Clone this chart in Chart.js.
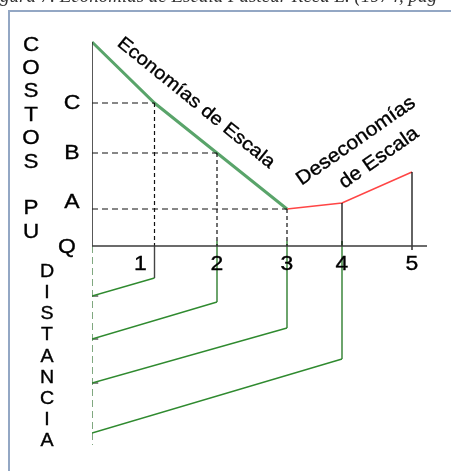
<!DOCTYPE html>
<html><head><meta charset="utf-8">
<script src="https://cdn.jsdelivr.net/npm/chart.js@4"></script>
<style>html,body{margin:0;padding:0;background:#fff;}canvas{display:block}</style>
</head><body>
<canvas id="c" width="451" height="471"></canvas>
<script>
// ---- data ----
const quantities = ['1', '2', '3', '4', '5'];
const qPositions = [1, 2, 3.12, 4, 5.12];          // where each quantity sits on the Q axis
const costLevels = ['C', 'B', 'A'];
const costLevelValues = [14.3, 9.3, 3.7];
const economiesX = [0, 1, 2, 3.12];
const economiesCost = [20.4, 14.3, 9.3, 3.7];
const diseconomiesX = [3.12, 4, 5.12];
const diseconomiesCost = [3.7, 4.3, 7.4];
const distanceBottom = [-3.2, -5.6, -8.2, -11.3];  // bottom of the drop at q1..q4
const distanceLeft = [-5.0, -9.3, -13.7, -18.7];   // where each line meets the distance axis
const distanceAxisEnd = -19.9;
const axisEndX = 5.36;
const yAxisLabel = 'COSTOS PU';
const distanceLabel = 'DISTANCIA';
const originLabel = 'Q';
const economiesText = 'Economías de Escala';
const diseconomiesText = ['Deseconomías', 'de Escala'];
const titleText = 'gura 7. Economías de Escala Pasteur Reed L. (1974, pág';

// ---- build datasets ----
const pts = (xs, ys) => xs.map((x, i) => ({x, y: ys[i]}));
const base = {pointRadius: 0, fill: false, tension: 0, borderCapStyle: 'butt'};
const ds = [];
function add(data, color, width, dash) {
  ds.push(Object.assign({}, base, {data, borderColor: color, borderWidth: width, borderDash: dash || []}));
}
// axes
add([{x: 0, y: 0}, {x: axisEndX, y: 0}], '#3a3a3a', 1.5);
add([{x: 0, y: economiesCost[0]}, {x: 0, y: 0}], '#222', 1.5);
add([{x: 0, y: 0}, {x: 0, y: distanceAxisEnd}], '#3d7a3d', 1.3, [7, 4]);
// dashed guides
costLevelValues.forEach((v, i) => {
  const qx = qPositions[i];
  add([{x: 0, y: v}, {x: qx, y: v}], '#111', 1.2, [6, 4]);
  add([{x: qx, y: v}, {x: qx, y: 0}], '#111', 1.2, [4, 3]);
});
// verticals at 4 and 5
add([{x: qPositions[3], y: diseconomiesCost[1]}, {x: qPositions[3], y: 0}], '#111', 1.3);
add([{x: qPositions[4], y: diseconomiesCost[2]}, {x: qPositions[4], y: -0.4}], '#111', 1.3);
// distance lines
distanceBottom.forEach((b, i) => {
  const qx = qPositions[i];
  add([{x: qx, y: i === 0 ? 0 : 0.5}, {x: qx, y: b}], i === 0 ? '#444' : '#2f7f2f', 1.4);
  add([{x: qx, y: b}, {x: 0, y: distanceLeft[i]}], '#2f8a2f', 1.4);
  if (i < 3) add([{x: 0, y: distanceLeft[i]}, {x: 0.1, y: distanceLeft[i]}], '#333', 1.2);
});
// cost curves
add(pts(economiesX, economiesCost), '#59a46a', 3);
add(pts(diseconomiesX, diseconomiesCost), '#ff4545', 1.5);

function txt(ctx, s, x, y, size, angle, sx, opts) {
  ctx.save();
  ctx.translate(x, y);
  ctx.rotate(angle || 0);
  ctx.scale(sx || 1, 1);
  ctx.font = (opts && opts.font) || (size + 'px "Liberation Sans", Arial, sans-serif');
  ctx.fillStyle = (opts && opts.color) || '#000';
  ctx.textAlign = (opts && opts.align) || 'center';
  ctx.textBaseline = (opts && opts.baseline) || 'middle';
  ctx.fillText(s, 0, 0);
  if (!opts || !opts.font) { ctx.lineWidth = 0.35; ctx.strokeStyle = ctx.fillStyle; ctx.strokeText(s, 0, 0); }
  ctx.restore();
}

const labelsPlugin = {
  id: 'labels',
  beforeDraw(chart) {
    const ctx = chart.ctx;
    ctx.save();
    ctx.fillStyle = '#fff';
    ctx.fillRect(0, 0, chart.width, chart.height);
    ctx.strokeStyle = '#93a7c4';
    ctx.lineWidth = 2;
    ctx.strokeRect(9, 11, 470, 480);
    ctx.restore();
    txt(ctx, titleText, 0, 2, 19, 0, 1, {font: 'italic 19px "Liberation Serif", serif', align: 'left', baseline: 'alphabetic', color: '#333'});
  },
  afterDatasetsDraw(chart) {
    const ctx = chart.ctx;
    const xs = chart.scales.x, ys = chart.scales.y;
    const X = v => xs.getPixelForValue(v), Y = v => ys.getPixelForValue(v);
    const S = 1.12;
    // quantity ticks
    quantities.forEach((q, i) => {
      txt(ctx, q, X(qPositions[i]) + (i === 0 ? -14 : 0), Y(0) + 18, 20.5, 0, S);
    });
    // cost levels
    costLevels.forEach((c, i) => {
      txt(ctx, c, X(0) - 20, Y(costLevelValues[i]) - (i === 2 ? 7 : 0), 20.5, 0, S);
    });
    txt(ctx, originLabel, X(0) - 25, Y(0) + 1, 20.5, 0, S);
    // vertical words
    [...yAxisLabel].forEach((ch, i) => {
      if (ch !== ' ') txt(ctx, ch, 31, 45 + i * 23.4, 20, 0, S);
    });
    [...distanceLabel].forEach((ch, i) => {
      txt(ctx, ch, 47, 272 + i * 21.2, 17.5, 0, S);
    });
    // rotated annotations
    txt(ctx, economiesText, 196, 103, 18.5, 39 * Math.PI / 180, 1.1);
    txt(ctx, diseconomiesText[0], 356, 141, 19.5, -35 * Math.PI / 180, 1.08);
    txt(ctx, diseconomiesText[1], 379, 158, 19.5, -35 * Math.PI / 180, 1.08);
  }
};

new Chart(document.getElementById('c'), {
  type: 'line',
  data: {datasets: ds},
  options: {
    responsive: false,
    animation: false,
    layout: {padding: {left: 92, right: 9, top: 26, bottom: 5}},
    plugins: {legend: {display: false}, tooltip: {enabled: false}, title: {display: false}},
    scales: {
      x: {type: 'linear', min: 0, max: 5.6, display: false},
      y: {type: 'linear', min: -22, max: 22, display: false}
    }
  },
  plugins: [labelsPlugin]
});
</script>
</body></html>
